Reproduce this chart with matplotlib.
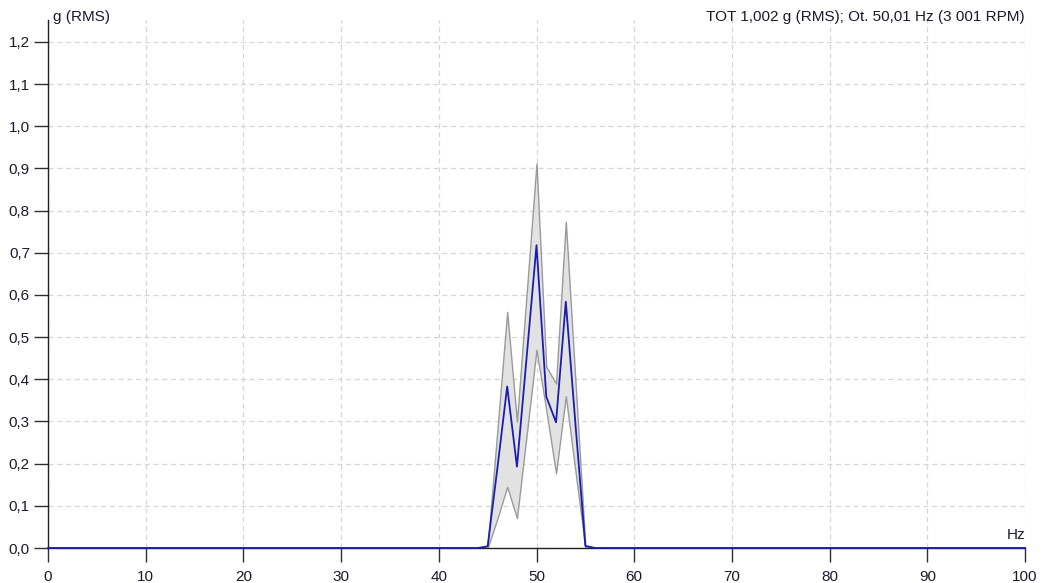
import matplotlib
matplotlib.use("Agg")
from matplotlib import pyplot as plt
from matplotlib.ticker import FuncFormatter

# spectrum (linear between points, zero elsewhere)
freq = [0, 44, 45, 46, 47, 48, 49, 50, 51, 52, 53, 54, 55, 56, 100]
rms = [0.0, 0.0, 0.004, 0.19, 0.383, 0.193, 0.455, 0.718, 0.359, 0.298, 0.584, 0.29, 0.005, 0.0, 0.0]
rms_max = [0.0, 0.0, 0.005, 0.28, 0.56, 0.30, 0.606, 0.912, 0.43, 0.39, 0.774, 0.39, 0.005, 0.0, 0.0]
rms_min = [0.0, 0.0, 0.0, 0.07, 0.145, 0.071, 0.27, 0.47, 0.327, 0.177, 0.36, 0.18, 0.0, 0.0, 0.0]

x_ticks = [0, 10, 20, 30, 40, 50, 60, 70, 80, 90, 100]
y_ticks = [0.0, 0.1, 0.2, 0.3, 0.4, 0.5, 0.6, 0.7, 0.8, 0.9, 1.0, 1.1, 1.2]
title_text = "TOT 1,002 g (RMS); Ot. 50,01 Hz (3 001 RPM)"

plt.rcParams['font.family'] = ['Liberation Sans', 'DejaVu Sans']
plt.rcParams['font.size'] = 11
txt_color = '#1a1a2a'

fig = plt.figure(figsize=(10.44, 5.83), dpi=100)
ax = fig.add_axes([48/1044, 35/583, 977/1044, 528/583])

ax.fill_between(freq, rms_min, rms_max, facecolor='#e2e2e2', edgecolor='#9a9a9a',
                linewidth=1, zorder=2)
ax.plot(freq, rms, color='#1c1cb0', linewidth=1.3, zorder=4, clip_on=False)

ax.set_xlim(0, 100)
ax.set_ylim(0, 1.252)
ax.set_xticks(x_ticks)
ax.set_yticks(y_ticks)
ax.yaxis.set_major_formatter(FuncFormatter(lambda v, p: f"{v:.1f}".replace('.', ',')))

ax.grid(True, color='#d6d6d6', linestyle=(0, (4, 3)), linewidth=0.9, zorder=0)
ax.set_axisbelow(True)

for side in ['top', 'right']:
    ax.spines[side].set_visible(False)
for side in ['left', 'bottom']:
    ax.spines[side].set_color('#202020')
    ax.spines[side].set_linewidth(1)
    ax.spines[side].set_zorder(3)

ax.tick_params(direction='out', length=10, width=1, color='#303030',
               labelcolor=txt_color, labelsize=11)
ax.tick_params(axis='y', pad=3)
ax.tick_params(axis='x', pad=6)

fig.text(53/1044, 1 - 17/583, "g (RMS)", ha='left', va='center', color=txt_color, fontsize=11)
fig.text(1025/1044, 1 - 17/583, title_text, ha='right', va='center', color=txt_color, fontsize=11)
ax.text(100, 0.015, "Hz", ha='right', va='bottom', color=txt_color, fontsize=11)

fig.savefig("out.png", dpi=100, facecolor='white')
